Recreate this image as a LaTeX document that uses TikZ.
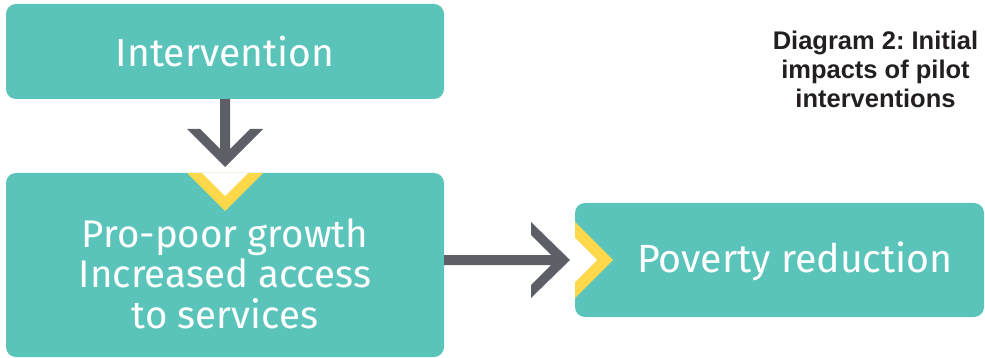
\documentclass[tikz,border=0pt]{standalone}
\usepackage{fontspec}
\setmainfont{Fira Sans}
\newfontfamily\titlefont{Liberation Sans}
\frenchspacing
\definecolor{teal}{HTML}{5BC4BA}
\definecolor{arrowgray}{HTML}{5D5F66}
\definecolor{chevyellow}{HTML}{FDD84A}
\definecolor{titlegray}{HTML}{231F20}
\begin{document}
\begin{tikzpicture}[x=1pt,y=-1pt,
  box/.style={fill=teal,rounded corners=10pt},
  boxtext/.style={text=white,inner sep=0pt,align=center},
  arrowshape/.style={fill=arrowgray},
  chevron/.style={fill=chevyellow},
  notch/.style={fill=white}]
\useasboundingbox (0,0) rectangle (985,358);
% boxes
\fill[box] (6,4) rectangle (444,99);
\fill[box] (6,173) rectangle (444,357);
\fill[box] (575,203) rectangle (984,317);
% yellow chevrons with white notches
\fill[chevron] (187,173) -- (263,173) -- (225,211) -- cycle;
\fill[notch] (202,173) -- (248,173) -- (225,196) -- cycle;
\fill[chevron] (575,222) -- (613,260) -- (575,298) -- cycle;
\fill[notch] (575,238) -- (597,260) -- (575,282) -- cycle;
% gray arrows
\fill[arrowshape] (187,129) -- (200,129) -- (220,149) -- (220,99) -- (230,99) -- (230,149) -- (250,129) -- (263,129) -- (225,167) -- cycle;
\fill[arrowshape] (444,255) -- (551,255) -- (531,235) -- (531,222) -- (570,260) -- (531,298) -- (531,285) -- (551,265) -- (444,265) -- cycle;
% texts
\node[boxtext,anchor=base,font=\fontsize{39}{47}\selectfont] (t1) at (225,67) {Intervention};
\node[boxtext,anchor=center,font=\fontsize{38.5}{40.5}\selectfont] (t2) at (225,273.5) {Pro-poor growth\\Increased access\\to services};
\node[boxtext,anchor=base,font=\fontsize{39.3}{47}\selectfont] (t3) at (795,272) {Poverty reduction};
\node[text=titlegray,inner sep=0pt,align=center,anchor=center,font=\titlefont\bfseries\fontsize{25.5}{29}\selectfont] (title) at (875.5,69.7) {Diagram 2: Initial\\impacts of pilot\\interventions};
\end{tikzpicture}
\end{document}
